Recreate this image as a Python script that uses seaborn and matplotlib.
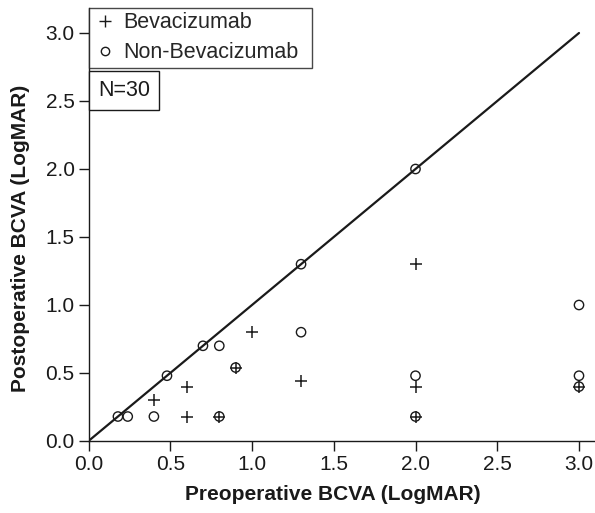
import matplotlib
matplotlib.use("Agg")
import matplotlib.pyplot as plt
from matplotlib.lines import Line2D
import seaborn as sns
import pandas as pd

# Data (LogMAR)
bev_pre = [0.4, 0.6, 0.6, 0.8, 0.9, 1.0, 1.3, 2.0, 2.0, 2.0, 3.0]
bev_post = [0.3, 0.4, 0.18, 0.18, 0.54, 0.8, 0.44, 1.3, 0.4, 0.18, 0.4]
non_pre = [0.18, 0.24, 0.4, 0.48, 0.7, 0.8, 0.9, 0.8, 1.3, 1.3, 2.0, 2.0, 2.0, 3.0, 3.0, 3.0]
non_post = [0.18, 0.18, 0.18, 0.48, 0.7, 0.7, 0.54, 0.18, 0.8, 1.3, 2.0, 0.48, 0.18, 1.0, 0.48, 0.4]
ref_line = [0.0, 3.0]
ticks = [0.0, 0.5, 1.0, 1.5, 2.0, 2.5, 3.0]
labels = ["Bevacizumab", "Non-Bevacizumab"]
n_text = "N=30"

sns.set_style("ticks")
plt.rcParams["font.family"] = ["Liberation Sans", "DejaVu Sans"]

FS = 15
INK = "#1a1a1a"

fig = plt.figure(figsize=(5.95, 5.13), dpi=100)
ax = fig.add_axes([88.5 / 595, (513 - 441) / 513, (595 - 88.5) / 595, (441 - 8) / 513])

bev = pd.DataFrame({"pre": bev_pre, "post": bev_post})
non = pd.DataFrame({"pre": non_pre, "post": non_post})

sns.lineplot(x=ref_line, y=ref_line, ax=ax, color=INK, linewidth=1.6)
sns.scatterplot(data=bev, x="pre", y="post", ax=ax, marker="+", color=INK,
                s=80, linewidth=1.1, zorder=3)
sns.scatterplot(data=non, x="pre", y="post", ax=ax, marker="o", facecolor="none",
                edgecolor=INK, s=45, linewidth=1.0, zorder=3)

ax.set_xlim(0, (595 - 88.5) / 163.5)
ax.set_ylim(0, (441 - 8) / 136)
ax.set_xticks(ticks)
ax.set_yticks(ticks)
ax.set_xticklabels([f"{t:.1f}" for t in ticks])
ax.set_yticklabels([f"{t:.1f}" for t in ticks])
ax.tick_params(labelsize=FS, length=7, width=1, colors=INK, pad=3)
for s in ["top", "right"]:
    ax.spines[s].set_visible(False)
for s in ["left", "bottom"]:
    ax.spines[s].set_color(INK)
    ax.spines[s].set_linewidth(1)

ax.set_xlabel("Preoperative BCVA (LogMAR)", fontsize=FS, fontweight="bold", color=INK)
ax.set_ylabel("Postoperative BCVA (LogMAR)", fontsize=FS, fontweight="bold", color=INK)
# centre labels over the 0-3 data range
ax.xaxis.set_label_coords((333 - 88.5) / (595 - 88.5), -(495 - 441) / (441 - 8), transform=ax.transAxes)
ax.yaxis.set_label_coords(-(88.5 - 21) / (595 - 88.5), (441 - 238) / (441 - 8), transform=ax.transAxes)
ax.xaxis.label.set_va("center")
ax.yaxis.label.set_va("center")

handles = [
    Line2D([], [], marker="+", linestyle="none", color=INK, markersize=8, markeredgewidth=1),
    Line2D([], [], marker="o", linestyle="none", markerfacecolor="none", markeredgecolor=INK, markersize=6, markeredgewidth=1),
]
leg = ax.legend(handles, labels, loc="upper left",
                bbox_to_anchor=(0, 1, (312 - 88.5) / (595 - 88.5), 0), mode="expand",
                fontsize=15.5, frameon=True, fancybox=False, edgecolor=INK, handlelength=1.1,
                handletextpad=0.3, borderpad=0.2, labelspacing=0.42, borderaxespad=0)
leg.get_frame().set_linewidth(1)

ax.text(0.217, 2.58, n_text, fontsize=15.5, ha="center", va="center", color=INK,
        bbox=dict(boxstyle="square,pad=0.42", fc="white", ec=INK, lw=1))

fig.savefig("out.png", dpi=100)
